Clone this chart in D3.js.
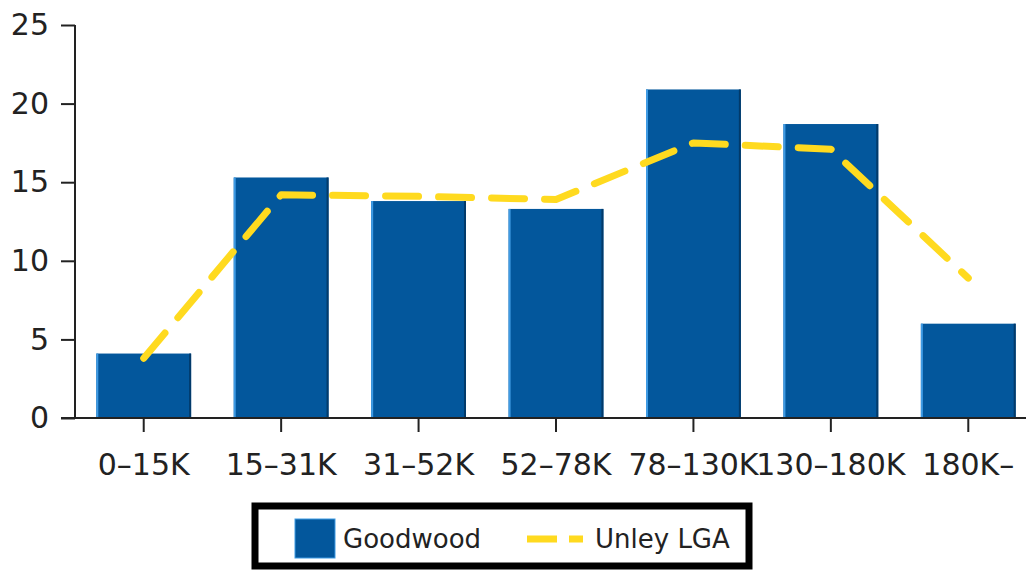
<!DOCTYPE html>
<html>
<head>
<meta charset="utf-8">
<script src="https://cdn.jsdelivr.net/npm/d3@7"></script>
<style>
	html, body { margin: 0; padding: 0; background: #fff; }
	svg { display: block; font-family: "DejaVu Sans", sans-serif; }
</style>
</head>
<body>
<svg id="chart" width="1026" height="570"></svg>
<script>
// income bands and percentages
var categories = ['0–15K', '15–31K', '31–52K', '52–78K', '78–130K', '130–180K', '180K–'];
var goodwood = [4.1, 15.3, 13.8, 13.3, 20.9, 18.7, 6.0];
var unley = [3.8, 14.2, 14.1, 13.9, 17.5, 17.1, 8.9];
var yTicks = [0, 5, 10, 15, 20, 25];

var svg = d3.select('#chart');

var x = d3.scaleBand()
	.domain(categories)
	.range([75, 1037])
	.paddingInner(0.31)
	.paddingOuter(0.155);

var y = d3.scaleLinear()
	.domain([0, 25])
	.range([418, 25]);

/*
 * bars, with a thin light edge on the left and a dark one on the right
 */
var bars = svg.append('g').selectAll('g')
	.data(goodwood)
	.enter().append('g');

bars.append('rect')
	.attr('x', function(d, i) { return x(categories[i]); })
	.attr('y', function(d) { return y(d); })
	.attr('width', x.bandwidth())
	.attr('height', function(d) { return y(0) - y(d); })
	.style('fill', '#03579c');

bars.append('rect')
	.attr('x', function(d, i) { return x(categories[i]); })
	.attr('y', function(d) { return y(d); })
	.attr('width', 2)
	.attr('height', function(d) { return y(0) - y(d); })
	.style('fill', '#3f9be4');

bars.append('rect')
	.attr('x', function(d, i) { return x(categories[i]) + x.bandwidth() - 2; })
	.attr('y', function(d) { return y(d); })
	.attr('width', 2)
	.attr('height', function(d) { return y(0) - y(d); })
	.style('fill', '#023a6a');

// axes
var yAxis = svg.append('g')
	.attr('transform', 'translate(75,0)')
	.call(d3.axisLeft(y).tickValues(yTicks).tickSize(14).tickPadding(12));

var xAxis = svg.append('g')
	.attr('transform', 'translate(0,418)')
	.call(d3.axisBottom(x).tickSize(14).tickPadding(22).tickSizeOuter(0));

yAxis.select('.domain').remove();
yAxis.append('line')
	.attr('x1', 0).attr('y1', y(25))
	.attr('x2', 0).attr('y2', y(0))
	.style('stroke', '#222').style('stroke-width', 2);

xAxis.select('.domain').remove();
xAxis.append('line')
	.attr('x1', 61).attr('y1', 0)
	.attr('x2', 1026).attr('y2', 0)
	.style('stroke', '#222').style('stroke-width', 2);

svg.selectAll('.tick line').style('stroke', '#222').style('stroke-width', 2);
svg.selectAll('.tick text')
	.style('font-family', '"DejaVu Sans", sans-serif')
	.style('font-size', '30px')
	.style('fill', '#222');

// the comparison line
var line = d3.line()
	.x(function(d, i) { return x(categories[i]) + x.bandwidth() / 2; })
	.y(function(d) { return y(d); });

svg.append('path')
	.datum(unley)
	.attr('d', line)
	.style('fill', 'none')
	.style('stroke', '#ffda1f')
	.style('stroke-width', 7)
	.style('stroke-linecap', 'round')
	.style('stroke-linejoin', 'round')
	.style('stroke-dasharray', '33,20');

// legend
var legend = svg.append('g');

legend.append('rect')
	.attr('x', 255).attr('y', 506)
	.attr('width', 494).attr('height', 60)
	.style('fill', '#fff')
	.style('stroke', '#000')
	.style('stroke-width', 7);

legend.append('rect')
	.attr('x', 295).attr('y', 519)
	.attr('width', 40).attr('height', 39)
	.style('fill', '#03579c')
	.style('stroke', '#3f9be4')
	.style('stroke-width', 1);

legend.append('text')
	.attr('x', 343).attr('y', 548)
	.style('font-size', '26px')
	.style('fill', '#222')
	.text('Goodwood');

legend.append('line')
	.attr('x1', 527).attr('y1', 539)
	.attr('x2', 583).attr('y2', 539)
	.style('stroke', '#ffda1f')
	.style('stroke-width', 7)
	.style('stroke-dasharray', '30,12');

legend.append('text')
	.attr('x', 595).attr('y', 548)
	.style('font-size', '26px')
	.style('fill', '#222')
	.text('Unley LGA');
</script>
</body>
</html>
